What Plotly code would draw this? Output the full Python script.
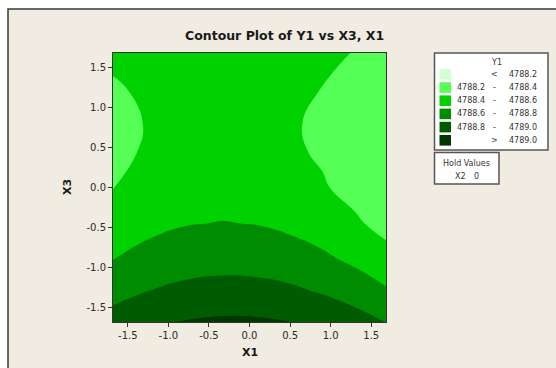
import plotly.graph_objects as go

# ---- data ----
x1_vals = [-1.682, -1.25, -0.8, -0.33, 0.1, 0.5, 0.9, 1.3, 1.682]
x3_vals = [-1.682, -1.3, -0.9, -0.45, 0.0, 0.45, 0.8, 1.2, 1.682]
y1_row_m1682 = [4788.884, 4788.958, 4789.008, 4789.031, 4789.027, 4789.001, 4788.953, 4788.884, 4788.797]
y1_row_m130 = [4788.730, 4788.801, 4788.849, 4788.870, 4788.863, 4788.835, 4788.785, 4788.713, 4788.625]
y1_row_m090 = [4788.597, 4788.666, 4788.711, 4788.729, 4788.720, 4788.689, 4788.637, 4788.563, 4788.473]
y1_row_m045 = [4788.482, 4788.548, 4788.591, 4788.606, 4788.594, 4788.560, 4788.505, 4788.429, 4788.336]
y1_row_000 = [4788.396, 4788.462, 4788.504, 4788.518, 4788.506, 4788.472, 4788.417, 4788.340, 4788.247]
y1_row_p045 = [4788.359, 4788.418, 4788.455, 4788.468, 4788.457, 4788.427, 4788.378, 4788.309, 4788.226]
y1_row_p080 = [4788.355, 4788.408, 4788.442, 4788.454, 4788.444, 4788.417, 4788.372, 4788.310, 4788.235]
y1_row_p120 = [4788.379, 4788.425, 4788.455, 4788.466, 4788.457, 4788.433, 4788.394, 4788.339, 4788.272]
y1_row_p1682 = [4788.431, 4788.478, 4788.508, 4788.519, 4788.510, 4788.486, 4788.446, 4788.392, 4788.325]
z_rows = [y1_row_m1682, y1_row_m130, y1_row_m090, y1_row_m045, y1_row_000,
          y1_row_p045, y1_row_p080, y1_row_p120, y1_row_p1682]

level_start = 4788.2
level_end = 4789.0
level_step = 0.2
band_colors = ["#d2ffd2", "#55ff55", "#00d200", "#008c00", "#005c00", "#003600"]
legend_left = ["", "4788.2", "4788.4", "4788.6", "4788.8", ""]
legend_mid = ["<", "-", "-", "-", "-", ">"]
legend_right = ["4788.2", "4788.4", "4788.6", "4788.8", "4789.0", "4789.0"]
tick_vals = [-1.5, -1.0, -0.5, 0.0, 0.5, 1.0, 1.5]
tick_text = ["-1.5", "-1.0", "-0.5", "0.0", "0.5", "1.0", "1.5"]
hold_name, hold_value = "X2", "0"

# ---- layout geometry (pixels) ----
W, H = 556, 368
L, R, T, B = 113, 386, 53, 322


def px(X):
    return (X - L) / (R - L)


def py(Y):
    return (B - Y) / (B - T)


n = len(band_colors)
colorscale = [[i / (n - 1), c] for i, c in enumerate(band_colors)]

fig = go.Figure()
fig.add_trace(go.Contour(
    x=x1_vals, y=x3_vals, z=z_rows,
    colorscale=colorscale,
    contours=dict(start=level_start, end=level_end, size=level_step, coloring="fill"),
    line=dict(width=0, smoothing=1.3),
    showscale=False, hoverinfo="skip",
))

font = "DejaVu Sans"


def note(text, X, Y, size=8, color="#333333", xanchor="center", **kw):
    return dict(text=text, x=px(X), y=py(Y), xref="paper", yref="paper",
                xanchor=xanchor, yanchor="middle", showarrow=False,
                font=dict(family=font, size=size, color=color), **kw)


shapes = [
    dict(type="rect", xref="paper", yref="paper", layer="below",
         x0=px(8), x1=px(W + 10), y0=py(H + 10), y1=py(9),
         fillcolor="#f0ece2", line=dict(color="#3a3a3a", width=1.5)),
    dict(type="rect", xref="paper", yref="paper",
         x0=px(434.5), x1=px(548), y0=py(150), y1=py(53),
         fillcolor="white", line=dict(color="#555555", width=1.5)),
    dict(type="rect", xref="paper", yref="paper",
         x0=px(434.5), x1=px(499), y0=py(184), y1=py(152.5),
         fillcolor="white", line=dict(color="#555555", width=1.5)),
]
annotations = [
    note("<b>Contour Plot of Y1 vs X3, X1</b>", 284, 36, size=12.5, color="#1a1a1a"),
    note("<b>X1</b>", 250, 352, size=11, color="#1a1a1a"),
    note("<b>X3</b>", 67, 187, size=11, color="#1a1a1a", textangle=-90),
    note("Y1", 496, 62),
    note("Hold Values", 466.5, 163),
    note(hold_name, 460, 176),
    note(hold_value, 476, 176),
]
for i in range(n):
    yc = 74.3 + i * 13.2
    shapes.append(dict(type="rect", xref="paper", yref="paper",
                       x0=px(439.5), x1=px(451), y0=py(yc + 5.3), y1=py(yc - 5.3),
                       fillcolor=band_colors[i], line=dict(width=0)))
    if legend_left[i]:
        annotations.append(note(legend_left[i], 487, yc, xanchor="right"))
    annotations.append(note(legend_mid[i], 494, yc))
    annotations.append(note(legend_right[i], 538.5, yc, xanchor="right"))

axis_common = dict(
    tickvals=tick_vals, ticktext=tick_text, ticks="outside", ticklen=4, tickcolor="#333333",
    showline=True, linecolor="#333333", linewidth=1, mirror=True,
    showgrid=False, zeroline=False, range=[-1.682, 1.682],
    tickfont=dict(family=font, size=10, color="#2a2a2a"),
)
fig.update_layout(
    width=W, height=H,
    margin=dict(l=L, r=W - R, t=T, b=H - B),
    paper_bgcolor="white", plot_bgcolor="white",
    xaxis=dict(**axis_common),
    yaxis=dict(**axis_common),
    shapes=shapes, annotations=annotations, showlegend=False,
)
fig.write_html("out.html")
